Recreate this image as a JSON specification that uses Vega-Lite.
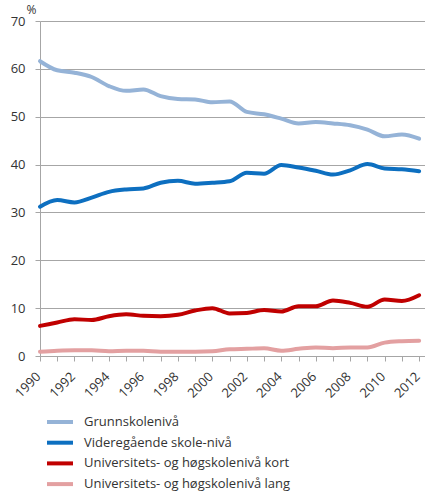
{
  "$schema": "https://vega.github.io/schema/vega-lite/v6.json",
  "autosize": {"type": "none"},
  "padding": {"left": 40, "top": 21, "right": 0, "bottom": 135},
  "width": 385,
  "height": 335,
  "background": "white",
  "data": {
    "values": [
      {"year": 1990, "serie": "Grunnskolenivå", "pct": 61.6},
      {"year": 1991, "serie": "Grunnskolenivå", "pct": 59.7},
      {"year": 1992, "serie": "Grunnskolenivå", "pct": 59.2},
      {"year": 1993, "serie": "Grunnskolenivå", "pct": 58.3},
      {"year": 1994, "serie": "Grunnskolenivå", "pct": 56.4},
      {"year": 1995, "serie": "Grunnskolenivå", "pct": 55.4},
      {"year": 1996, "serie": "Grunnskolenivå", "pct": 55.7},
      {"year": 1997, "serie": "Grunnskolenivå", "pct": 54.3},
      {"year": 1998, "serie": "Grunnskolenivå", "pct": 53.7},
      {"year": 1999, "serie": "Grunnskolenivå", "pct": 53.6},
      {"year": 2000, "serie": "Grunnskolenivå", "pct": 53.0},
      {"year": 2001, "serie": "Grunnskolenivå", "pct": 53.2},
      {"year": 2002, "serie": "Grunnskolenivå", "pct": 51.0},
      {"year": 2003, "serie": "Grunnskolenivå", "pct": 50.5},
      {"year": 2004, "serie": "Grunnskolenivå", "pct": 49.6},
      {"year": 2005, "serie": "Grunnskolenivå", "pct": 48.6},
      {"year": 2006, "serie": "Grunnskolenivå", "pct": 48.9},
      {"year": 2007, "serie": "Grunnskolenivå", "pct": 48.6},
      {"year": 2008, "serie": "Grunnskolenivå", "pct": 48.2},
      {"year": 2009, "serie": "Grunnskolenivå", "pct": 47.3},
      {"year": 2010, "serie": "Grunnskolenivå", "pct": 45.9},
      {"year": 2011, "serie": "Grunnskolenivå", "pct": 46.3},
      {"year": 2012, "serie": "Grunnskolenivå", "pct": 45.4},
      {"year": 1990, "serie": "Videregående skole-nivå", "pct": 31.2},
      {"year": 1991, "serie": "Videregående skole-nivå", "pct": 32.6},
      {"year": 1992, "serie": "Videregående skole-nivå", "pct": 32.1},
      {"year": 1993, "serie": "Videregående skole-nivå", "pct": 33.1},
      {"year": 1994, "serie": "Videregående skole-nivå", "pct": 34.3},
      {"year": 1995, "serie": "Videregående skole-nivå", "pct": 34.8},
      {"year": 1996, "serie": "Videregående skole-nivå", "pct": 35.0},
      {"year": 1997, "serie": "Videregående skole-nivå", "pct": 36.2},
      {"year": 1998, "serie": "Videregående skole-nivå", "pct": 36.6},
      {"year": 1999, "serie": "Videregående skole-nivå", "pct": 36.0},
      {"year": 2000, "serie": "Videregående skole-nivå", "pct": 36.2},
      {"year": 2001, "serie": "Videregående skole-nivå", "pct": 36.5},
      {"year": 2002, "serie": "Videregående skole-nivå", "pct": 38.3},
      {"year": 2003, "serie": "Videregående skole-nivå", "pct": 38.1},
      {"year": 2004, "serie": "Videregående skole-nivå", "pct": 39.9},
      {"year": 2005, "serie": "Videregående skole-nivå", "pct": 39.4},
      {"year": 2006, "serie": "Videregående skole-nivå", "pct": 38.7},
      {"year": 2007, "serie": "Videregående skole-nivå", "pct": 37.9},
      {"year": 2008, "serie": "Videregående skole-nivå", "pct": 38.8},
      {"year": 2009, "serie": "Videregående skole-nivå", "pct": 40.1},
      {"year": 2010, "serie": "Videregående skole-nivå", "pct": 39.2},
      {"year": 2011, "serie": "Videregående skole-nivå", "pct": 39.0},
      {"year": 2012, "serie": "Videregående skole-nivå", "pct": 38.6},
      {"year": 1990, "serie": "Universitets- og høgskolenivå kort", "pct": 6.3},
      {"year": 1991, "serie": "Universitets- og høgskolenivå kort", "pct": 7.0},
      {"year": 1992, "serie": "Universitets- og høgskolenivå kort", "pct": 7.7},
      {"year": 1993, "serie": "Universitets- og høgskolenivå kort", "pct": 7.5},
      {"year": 1994, "serie": "Universitets- og høgskolenivå kort", "pct": 8.3},
      {"year": 1995, "serie": "Universitets- og høgskolenivå kort", "pct": 8.7},
      {"year": 1996, "serie": "Universitets- og høgskolenivå kort", "pct": 8.4},
      {"year": 1997, "serie": "Universitets- og høgskolenivå kort", "pct": 8.3},
      {"year": 1998, "serie": "Universitets- og høgskolenivå kort", "pct": 8.6},
      {"year": 1999, "serie": "Universitets- og høgskolenivå kort", "pct": 9.5},
      {"year": 2000, "serie": "Universitets- og høgskolenivå kort", "pct": 10.0},
      {"year": 2001, "serie": "Universitets- og høgskolenivå kort", "pct": 8.9},
      {"year": 2002, "serie": "Universitets- og høgskolenivå kort", "pct": 9.0},
      {"year": 2003, "serie": "Universitets- og høgskolenivå kort", "pct": 9.6},
      {"year": 2004, "serie": "Universitets- og høgskolenivå kort", "pct": 9.3},
      {"year": 2005, "serie": "Universitets- og høgskolenivå kort", "pct": 10.4},
      {"year": 2006, "serie": "Universitets- og høgskolenivå kort", "pct": 10.4},
      {"year": 2007, "serie": "Universitets- og høgskolenivå kort", "pct": 11.6},
      {"year": 2008, "serie": "Universitets- og høgskolenivå kort", "pct": 11.1},
      {"year": 2009, "serie": "Universitets- og høgskolenivå kort", "pct": 10.3},
      {"year": 2010, "serie": "Universitets- og høgskolenivå kort", "pct": 11.8},
      {"year": 2011, "serie": "Universitets- og høgskolenivå kort", "pct": 11.5},
      {"year": 2012, "serie": "Universitets- og høgskolenivå kort", "pct": 12.7},
      {"year": 1990, "serie": "Universitets- og høgskolenivå lang", "pct": 0.9},
      {"year": 1991, "serie": "Universitets- og høgskolenivå lang", "pct": 1.1},
      {"year": 1992, "serie": "Universitets- og høgskolenivå lang", "pct": 1.2},
      {"year": 1993, "serie": "Universitets- og høgskolenivå lang", "pct": 1.2},
      {"year": 1994, "serie": "Universitets- og høgskolenivå lang", "pct": 1.0},
      {"year": 1995, "serie": "Universitets- og høgskolenivå lang", "pct": 1.1},
      {"year": 1996, "serie": "Universitets- og høgskolenivå lang", "pct": 1.1},
      {"year": 1997, "serie": "Universitets- og høgskolenivå lang", "pct": 0.9},
      {"year": 1998, "serie": "Universitets- og høgskolenivå lang", "pct": 0.9},
      {"year": 1999, "serie": "Universitets- og høgskolenivå lang", "pct": 0.9},
      {"year": 2000, "serie": "Universitets- og høgskolenivå lang", "pct": 1.0},
      {"year": 2001, "serie": "Universitets- og høgskolenivå lang", "pct": 1.4},
      {"year": 2002, "serie": "Universitets- og høgskolenivå lang", "pct": 1.5},
      {"year": 2003, "serie": "Universitets- og høgskolenivå lang", "pct": 1.6},
      {"year": 2004, "serie": "Universitets- og høgskolenivå lang", "pct": 1.1},
      {"year": 2005, "serie": "Universitets- og høgskolenivå lang", "pct": 1.5},
      {"year": 2006, "serie": "Universitets- og høgskolenivå lang", "pct": 1.8},
      {"year": 2007, "serie": "Universitets- og høgskolenivå lang", "pct": 1.6},
      {"year": 2008, "serie": "Universitets- og høgskolenivå lang", "pct": 1.8},
      {"year": 2009, "serie": "Universitets- og høgskolenivå lang", "pct": 1.8},
      {"year": 2010, "serie": "Universitets- og høgskolenivå lang", "pct": 2.8},
      {"year": 2011, "serie": "Universitets- og høgskolenivå lang", "pct": 3.1},
      {"year": 2012, "serie": "Universitets- og høgskolenivå lang", "pct": 3.2}
    ]
  },
  "mark": {"type": "line", "interpolate": "monotone", "strokeWidth": 4, "strokeCap": "round"},
  "encoding": {
    "x": {
      "field": "year",
      "type": "quantitative",
      "scale": {"domain": [1990, 2012.34], "nice": false, "zero": false},
      "axis": {
        "title": null,
        "grid": false,
        "values": [1990, 1991, 1992, 1993, 1994, 1995, 1996, 1997, 1998, 1999, 2000, 2001, 2002, 2003, 2004, 2005, 2006, 2007, 2008, 2009, 2010, 2011, 2012],
        "labelExpr": "datum.value % 2 == 0 ? datum.value : ''",
        "labelAngle": -45,
        "labelAlign": "right",
        "labelBaseline": "top",
        "labelFlush": false,
        "labelFontSize": 13,
        "labelPadding": 9,
        "labelOffset": -6,
        "labelOverlap": false,
        "tickSize": 5,
        "domainColor": "#a6a6a6",
        "tickColor": "#a6a6a6"
      }
    },
    "y": {
      "field": "pct",
      "type": "quantitative",
      "scale": {"domain": [0, 70], "nice": false},
      "axis": {
        "values": [0, 10, 20, 30, 40, 50, 60, 70],
        "title": "%",
        "titleAngle": 0,
        "titleX": -14,
        "titleY": -17,
        "titleAlign": "left",
        "titleBaseline": "top",
        "titleFontWeight": "normal",
        "titleFontSize": 12,
        "labelFontSize": 13,
        "labelPadding": 10,
        "labelFlush": false,
        "tickSize": 5,
        "gridColor": "#a6a6a6",
        "domainColor": "#a6a6a6",
        "tickColor": "#a6a6a6"
      }
    },
    "color": {
      "field": "serie",
      "type": "nominal",
      "scale": {
        "domain": ["Grunnskolenivå", "Videregående skole-nivå", "Universitets- og høgskolenivå kort", "Universitets- og høgskolenivå lang"],
        "range": ["#95b3d7", "#0d6fc0", "#c00000", "#e3a0a1"]
      },
      "legend": {
        "title": null,
        "orient": "none",
        "legendX": 8,
        "legendY": 389,
        "padding": 0,
        "symbolType": "M-1.3,0L1.3,0",
        "symbolSize": 400,
        "symbolStrokeWidth": 4,
        "labelFontSize": 13,
        "labelLimit": 400,
        "rowPadding": 0.7,
        "labelOffset": 12
      }
    }
  },
  "config": {
    "font": "Open Sans",
    "view": {"stroke": null},
    "axis": {"labelColor": "#333333", "titleColor": "#333333"},
    "legend": {"labelColor": "#333333"}
  }
}
